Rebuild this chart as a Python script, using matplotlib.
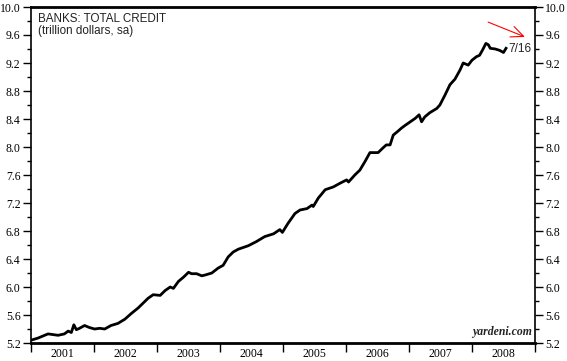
import matplotlib
matplotlib.use("Agg")
import matplotlib.pyplot as plt
from matplotlib.ticker import MultipleLocator, FixedLocator, NullFormatter, FormatStrFormatter

# weekly-ish readings, decimal year -> trillion dollars
years = [
    2001.00, 2001.11, 2001.27, 2001.43, 2001.53, 2001.59, 2001.64, 2001.68, 2001.72, 2001.77,
    2001.85, 2001.93, 2002.01, 2002.09, 2002.17, 2002.27, 2002.38, 2002.49, 2002.59, 2002.70,
    2002.86, 2002.94, 2003.05, 2003.13, 2003.21, 2003.26, 2003.34, 2003.42, 2003.50, 2003.55,
    2003.63, 2003.71, 2003.76, 2003.87, 2003.97, 2004.05, 2004.13, 2004.21, 2004.29, 2004.45,
    2004.58, 2004.71, 2004.85, 2004.95, 2004.99, 2005.08, 2005.19, 2005.27, 2005.38, 2005.46,
    2005.48, 2005.56, 2005.67, 2005.80, 2005.90, 2006.01, 2006.04, 2006.14, 2006.22, 2006.30,
    2006.38, 2006.46, 2006.51, 2006.59, 2006.64, 2006.70, 2006.75, 2006.83, 2006.88, 2006.94,
    2007.02, 2007.10, 2007.16, 2007.20, 2007.25, 2007.33, 2007.44, 2007.49, 2007.57, 2007.65,
    2007.73, 2007.81, 2007.86, 2007.94, 2008.00, 2008.07, 2008.12, 2008.17, 2008.22, 2008.26,
    2008.29, 2008.37, 2008.44, 2008.50, 2008.54,
]
credit = [
    5.24, 5.27, 5.33, 5.31, 5.33, 5.37, 5.35, 5.46, 5.39, 5.41,
    5.45, 5.42, 5.40, 5.41, 5.40, 5.45, 5.48, 5.54, 5.62, 5.70,
    5.84, 5.89, 5.88, 5.95, 6.00, 5.98, 6.08, 6.14, 6.21, 6.19,
    6.19, 6.16, 6.17, 6.20, 6.27, 6.31, 6.43, 6.50, 6.54, 6.59,
    6.65, 6.72, 6.76, 6.82, 6.78, 6.91, 7.05, 7.10, 7.12, 7.17,
    7.15, 7.27, 7.39, 7.43, 7.48, 7.53, 7.50, 7.60, 7.67, 7.79,
    7.92, 7.92, 7.92, 7.99, 8.03, 8.03, 8.17, 8.23, 8.27, 8.31,
    8.36, 8.41, 8.46, 8.36, 8.43, 8.49, 8.55, 8.60, 8.74, 8.89,
    8.97, 9.10, 9.20, 9.17, 9.24, 9.29, 9.31, 9.39, 9.48, 9.46,
    9.41, 9.40, 9.38, 9.35, 9.41,
]
year_labels = ["2001", "2002", "2003", "2004", "2005", "2006", "2007", "2008"]
last_label = "7/16"

serif = ["Liberation Serif", "DejaVu Serif"]
sans = ["Liberation Sans", "DejaVu Sans"]

fig = plt.figure(figsize=(5.67, 3.61), dpi=100)
ax = fig.add_axes([31 / 567, 18 / 361, 504 / 567, 336 / 361])

ax.plot(years, credit, color="black", linewidth=2.0, solid_joinstyle="round")

ax.set_xlim(2001, 2009)
ax.set_ylim(5.2, 10.0)

# y axis on both sides
ax.yaxis.set_major_locator(MultipleLocator(0.4))
ax.yaxis.set_minor_locator(MultipleLocator(0.2))
ax.yaxis.set_major_formatter(FormatStrFormatter("%.1f"))
ax.tick_params(axis="y", which="both", direction="out", left=True, right=True,
               labelleft=True, labelright=True, width=1.0)
ax.tick_params(axis="y", which="major", length=6, pad=1.5, labelsize=8.5)
ax.tick_params(axis="y", which="minor", length=3)

# x axis: ticks on year boundaries, labels mid-year
ax.xaxis.set_major_locator(MultipleLocator(1))
ax.xaxis.set_major_formatter(NullFormatter())
ax.xaxis.set_minor_locator(FixedLocator([int(y) + 0.5 for y in year_labels]))
ax.set_xticklabels(year_labels, minor=True)
ax.tick_params(axis="x", which="major", direction="out", length=6.5, width=1.0, top=False)
ax.tick_params(axis="x", which="minor", length=0, pad=3.5, labelsize=8.5, top=False)

for lab in ax.get_xticklabels(minor=True) + ax.get_yticklabels():
    lab.set_family(serif)
for lab in ax.yaxis.get_ticklabels(which="major"):
    lab.set_family(serif)

ax.spines["top"].set_linewidth(2.0)
ax.spines["bottom"].set_linewidth(2.0)
ax.spines["left"].set_linewidth(1.2)
ax.spines["right"].set_linewidth(1.2)

ax.text(0.014, 0.982, "BANKS: TOTAL CREDIT\n(trillion dollars, sa)", transform=ax.transAxes,
        ha="left", va="top", fontsize=8.4, family=sans, color="#222222", linespacing=1.0)

ax.text(years[-1] + 0.04, credit[-1] - 0.01, last_label, ha="left", va="center",
        fontsize=8.5, family=sans, color="#222222")

ax.annotate("", xy=(0.980, 0.911), xytext=(0.907, 0.955), xycoords="axes fraction",
            arrowprops=dict(arrowstyle="->,head_length=0.9,head_width=0.4",
                            color="red", linewidth=0.8, shrinkA=0, shrinkB=0))

ax.text(0.995, 0.016, "yardeni.com", transform=ax.transAxes, ha="right", va="bottom",
        fontsize=8.5, family=serif, style="italic", weight="bold", color="#222222")

fig.savefig("out.png", dpi=100)
